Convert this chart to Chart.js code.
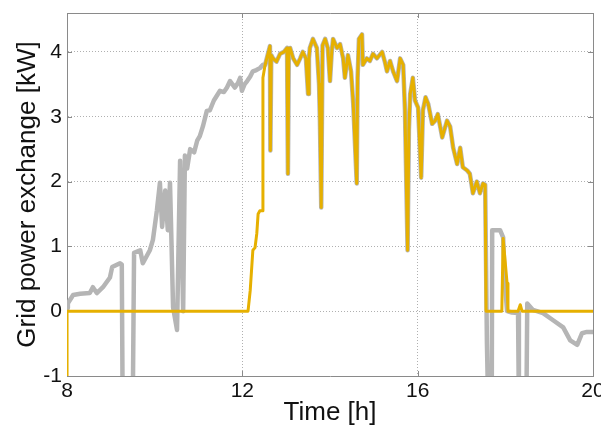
<!DOCTYPE html>
<html>
<head>
<meta charset="utf-8">
<script src="https://cdn.jsdelivr.net/npm/chart.js@4/dist/chart.umd.min.js"></script>
<style>
html,body{margin:0;padding:0;background:#fff;}
canvas{display:block;}
</style>
</head>
<body>
<canvas id="c" width="601" height="429"></canvas>
<script>
// ---- data (hours, kW) ----
const xTicks = [8, 12, 16, 20];
const yTicks = [-1, 0, 1, 2, 3, 4];

// gray series before the shared segment
const grayEarlyTime  = [8.00, 8.02, 8.14, 8.30, 8.52, 8.59, 8.68, 8.82, 8.98, 9.03, 9.21, 9.25, 9.27, 9.50, 9.53, 9.67, 9.73, 9.89, 9.96, 10.05, 10.12, 10.17, 10.24, 10.30, 10.35, 10.42, 10.51, 10.58, 10.65, 10.69, 10.74, 10.81, 10.90, 10.97, 11.03, 11.10, 11.19, 11.26, 11.35, 11.49, 11.58, 11.65, 11.72, 11.83, 11.90, 11.95, 11.99, 12.05, 12.11, 12.18, 12.24, 12.32, 12.40, 12.47];
const grayEarlyPower = [0.05, 0.12, 0.25, 0.27, 0.28, 0.37, 0.28, 0.37, 0.52, 0.68, 0.74, 0.72, -1.5, -1.5, 0.90, 0.94, 0.74, 0.94, 1.10, 1.55, 1.98, 1.30, 1.86, 1.25, 1.98, 0.06, -0.29, 2.32, 0.00, 2.40, 2.20, 2.50, 2.45, 2.63, 2.70, 2.85, 3.09, 3.10, 3.25, 3.40, 3.38, 3.45, 3.55, 3.45, 3.52, 3.60, 3.40, 3.50, 3.55, 3.62, 3.70, 3.72, 3.75, 3.80];

// yellow series before the shared segment
const yellowEarlyTime  = [8.00, 8.001, 12.13, 12.18, 12.24, 12.29, 12.33, 12.36, 12.40, 12.46, 12.47];
const yellowEarlyPower = [-1.5, 0.00, 0.00, 0.32, 0.94, 0.98, 1.20, 1.50, 1.55, 1.55, 3.60];

// segment where both series coincide
const sharedTime  = [12.52, 12.63, 12.64, 12.66, 12.70, 12.78, 12.86, 12.95, 13.02, 13.04, 13.06, 13.09, 13.16, 13.25, 13.32, 13.38, 13.45, 13.50, 13.52, 13.54, 13.61, 13.70, 13.75, 13.77, 13.80, 13.83, 13.89, 13.95, 14.00, 14.04, 14.07, 14.16, 14.23, 14.30, 14.34, 14.41, 14.48, 14.53, 14.61, 14.63, 14.66, 14.73, 14.75, 14.84, 14.91, 14.98, 15.07, 15.19, 15.25, 15.30, 15.37, 15.44, 15.53, 15.60, 15.67, 15.71, 15.77, 15.80, 15.83, 15.89, 15.94, 16.01, 16.08, 16.12, 16.18, 16.24, 16.33, 16.40, 16.46, 16.56, 16.67, 16.74, 16.81, 16.90, 16.97, 17.03, 17.13, 17.19, 17.26, 17.35, 17.42, 17.49, 17.54];
const sharedPower = [3.80, 4.09, 2.48, 3.95, 3.90, 3.85, 3.97, 4.00, 4.06, 2.12, 4.00, 4.06, 3.90, 3.80, 3.90, 4.00, 3.90, 3.35, 3.90, 4.06, 4.20, 4.06, 3.50, 2.94, 1.60, 4.10, 4.20, 4.06, 3.55, 4.00, 4.20, 4.06, 4.12, 3.90, 3.60, 3.95, 3.70, 3.20, 1.97, 3.60, 4.20, 4.27, 3.80, 3.90, 3.86, 3.97, 3.90, 4.00, 3.85, 3.70, 3.86, 3.70, 3.55, 3.90, 3.80, 3.10, 0.94, 2.80, 3.35, 3.60, 3.25, 3.14, 2.06, 3.10, 3.30, 3.20, 2.89, 2.94, 3.04, 2.68, 2.94, 2.85, 2.52, 2.27, 2.52, 2.22, 2.17, 2.12, 1.82, 2.00, 1.82, 1.97, 1.95];

// tails after the shared segment
const grayLateTime  = [17.58, 17.61, 17.69, 17.70, 17.88, 17.95, 17.99, 18.04, 18.15, 18.29, 18.31, 18.48, 18.50, 18.63, 18.86, 19.09, 19.32, 19.48, 19.64, 19.75, 19.86, 20.00];
const grayLatePower = [-0.50, -1.5, -1.5, 1.25, 1.25, 1.14, 0.43, 0.00, -0.02, -0.03, -1.5, -1.5, 0.12, 0.02, -0.03, -0.14, -0.25, -0.45, -0.52, -0.34, -0.32, -0.32];

const yellowLateTime  = [17.56, 17.92, 17.95, 18.04, 18.06, 18.29, 18.34, 18.38, 20.00];
const yellowLatePower = [0.00, 0.00, 1.12, 0.43, 0.00, 0.00, 0.10, 0.00, 0.00];

function pts(ts, vs){ return ts.map((t,i)=>({x:t, y:vs[i]})); }
const grayData   = pts(grayEarlyTime, grayEarlyPower).concat(pts(sharedTime, sharedPower), pts(grayLateTime, grayLatePower));
const yellowData = pts(yellowEarlyTime, yellowEarlyPower).concat(pts(sharedTime, sharedPower), pts(yellowLateTime, yellowLatePower));

const FONT = "'Liberation Sans', Arial, sans-serif";
const AXIS_COLOR = '#8a8a8a';

const boxPlugin = {
  id: 'box',
  beforeDatasetsDraw(chart){
    const {ctx, chartArea: a, scales} = chart;
    ctx.save();
    ctx.strokeStyle = AXIS_COLOR;
    ctx.lineWidth = 1;
    ctx.beginPath();
    ctx.moveTo(a.left, a.top + 0.5); ctx.lineTo(a.right + 0.5, a.top + 0.5); ctx.lineTo(a.right + 0.5, a.bottom);
    const L = 5;
    scales.x.ticks.forEach(t => {
      const px = Math.round(scales.x.getPixelForValue(t.value)) + 0.5;
      ctx.moveTo(px, a.bottom); ctx.lineTo(px, a.bottom - L);
      ctx.moveTo(px, a.top); ctx.lineTo(px, a.top + L);
    });
    scales.y.ticks.forEach(t => {
      const py = Math.round(scales.y.getPixelForValue(t.value)) + 0.5;
      ctx.moveTo(a.left, py); ctx.lineTo(a.left + L, py);
      ctx.moveTo(a.right, py); ctx.lineTo(a.right - L, py);
    });
    ctx.stroke();
    ctx.restore();
  }
};

new Chart(document.getElementById('c'), {
  type: 'line',
  data: {
    datasets: [
      { label: 'yellow', data: yellowData, borderColor: '#e6b000', borderWidth: 3, pointRadius: 0, tension: 0, borderJoinStyle: 'round', borderCapStyle: 'round' },
      { label: 'gray', data: grayData, borderColor: '#b5b5b5', borderWidth: 4.5, pointRadius: 0, tension: 0, borderJoinStyle: 'round', borderCapStyle: 'round' }
    ]
  },
  options: {
    responsive: false,
    animation: false,
    devicePixelRatio: 1,
    parsing: false,
    layout: { padding: { top: 13, right: 8, left: 0, bottom: 0 } },
    plugins: { legend: { display: false }, tooltip: { enabled: false } },
    scales: {
      x: {
        type: 'linear', min: 8, max: 20,
        afterBuildTicks: s => { s.ticks = xTicks.map(v => ({value: v})); },
        afterFit: s => { s.height = 53; s.paddingLeft = 0; s.paddingRight = 0; },
        ticks: { color: '#111', font: { family: FONT, size: 21 }, padding: 3, maxRotation: 0, autoSkip: false },
        grid: { color: '#b0b0b0', drawTicks: false, lineWidth: 1 },
        border: { color: AXIS_COLOR, width: 1, dash: [1, 2] },
        title: { display: true, text: 'Time [h]', color: '#111', font: { family: FONT, size: 26 }, padding: { top: 0, bottom: 1 } }
      },
      y: {
        type: 'linear', min: -1, max: 4.6,
        afterBuildTicks: s => { s.ticks = yTicks.map(v => ({value: v})); },
        afterFit: s => { s.width = 67; s.paddingTop = 0; s.paddingBottom = 0; },
        ticks: { color: '#111', font: { family: FONT, size: 21 }, padding: 5, autoSkip: false },
        grid: { color: '#b0b0b0', drawTicks: false, lineWidth: 1 },
        border: { color: AXIS_COLOR, width: 1, dash: [1, 2] },
        title: { display: true, text: 'Grid power exchange [kW]', color: '#111', font: { family: FONT, size: 26 }, padding: { top: 12, bottom: 0 } }
      }
    }
  },
  plugins: [boxPlugin]
});
</script>
</body>
</html>
